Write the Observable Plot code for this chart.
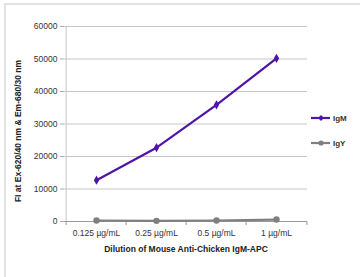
<!DOCTYPE html>
<html><head><meta charset="utf-8">
<script src="https://cdn.jsdelivr.net/npm/d3@7"></script>
<script src="https://cdn.jsdelivr.net/npm/@observablehq/plot@0.6"></script>
<style>
html,body{margin:0;padding:0;background:#fff;}
#wrap{position:relative;width:360px;height:277px;overflow:hidden;}
#frame{position:absolute;left:4px;top:3px;width:400px;height:272px;border-top:2px solid #e2e2e2;border-left:2px solid #e2e2e2;}
#legend{position:absolute;left:311px;top:112px;font:bold 8px "Liberation Sans",Arial,sans-serif;color:#333;}
.li{display:flex;align-items:center;height:12px;margin-bottom:13px;}
.li span{margin-left:2px;}
#chart{position:absolute;left:0;top:0;}
</style></head>
<body><div id="wrap"><div id="frame"></div><div id="chart"></div><div id="legend"></div></div>
<script>
const dilutions = ["0.125 µg/mL", "0.25 µg/mL", "0.5 µg/mL", "1 µg/mL"];
const igm = [12700, 22700, 35900, 50200];
const igy = [300, 200, 300, 600];
const seriesNames = ["IgM", "IgY"];
const seriesColors = ["#4f14a8", "#7f7f7f"];
const yTicks = [0, 10000, 20000, 30000, 40000, 50000, 60000];
const yTitle = "FI at Ex-620/40 nm & Em-680/30 nm";
const xTitle = "Dilution of Mouse Anti-Chicken IgM-APC";

const data = [];
dilutions.forEach((d, i) => {
  data.push({dil: d, series: "IgM", v: igm[i]});
  data.push({dil: d, series: "IgY", v: igy[i]});
});

const W = 360, H = 277, ml = 64, mr = 53, mt = 26, mb = 56;
const bw = (W - ml - mr) / dilutions.length;
const ih = H - mt - mb;

const plot = Plot.plot({
  width: W, height: H,
  marginLeft: ml, marginRight: mr, marginTop: mt, marginBottom: mb,
  style: {fontFamily: "'Liberation Sans', Arial, sans-serif", fontSize: "8.5px", color: "#333", background: "transparent"},
  x: {type: "band", domain: dilutions, padding: 0},
  y: {type: "linear", domain: [0, 60000]},
  marks: [
    Plot.ruleY(yTicks.slice(1), {stroke: "#c6c6c6", strokeWidth: 1, strokeOpacity: 1}),
    Plot.ruleX([dilutions[0]], {x: d => d, dx: -bw / 2, stroke: "#c6c6c6", strokeOpacity: 1}),
    Plot.ruleY([0], {stroke: "#9a9a9a", strokeWidth: 1, strokeOpacity: 1}),
    Plot.ruleX(dilutions, {x: d => d, dx: -bw / 2, insetTop: ih, insetBottom: -4, stroke: "#9a9a9a", strokeOpacity: 1}),
    Plot.ruleX([dilutions[dilutions.length - 1]], {x: d => d, dx: bw / 2, insetTop: ih, insetBottom: -4, stroke: "#9a9a9a", strokeOpacity: 1}),
    Plot.axisY({ticks: yTicks, tickFormat: d => String(d), tickSize: 4, tickPadding: 3, stroke: "#aaa", label: null, fontSize: "8.5px"}),
    Plot.axisX({tickSize: 0, tickPadding: 8, label: null, fontSize: "8.5px"}),
    Plot.text([yTitle], {frameAnchor: "left", textAnchor: "middle", rotate: -90, dx: -46, dy: 7, fontWeight: "bold", fontSize: 8.5, fill: "#222"}),
    Plot.text([xTitle], {frameAnchor: "bottom", dy: 28, fontWeight: "bold", fontSize: 8.5, fill: "#222", lineAnchor: "middle"}),
    Plot.line(data.filter(d => d.series === "IgY"), {x: "dil", y: "v", stroke: seriesColors[1], strokeWidth: 2.2}),
    Plot.dot(data.filter(d => d.series === "IgY"), {x: "dil", y: "v", r: 3.2, fill: seriesColors[1]}),
    Plot.line(data.filter(d => d.series === "IgM"), {x: "dil", y: "v", stroke: seriesColors[0], strokeWidth: 2.2}),
    Plot.dot(data.filter(d => d.series === "IgM"), {x: "dil", y: "v", r: 2.8, symbol: "diamond", fill: seriesColors[0]})
  ]
});
document.getElementById("chart").appendChild(plot);

const leg = d3.select("#legend");
seriesNames.forEach((s, i) => {
  const row = leg.append("div").attr("class", "li");
  const sv = row.append("svg").attr("width", 20).attr("height", 8);
  sv.append("line").attr("x1", 0).attr("x2", 19).attr("y1", 4).attr("y2", 4).attr("stroke", seriesColors[i]).attr("stroke-width", 2.2);
  if (i === 0) sv.append("path").attr("d", "M10,1L13,4L10,7L7,4Z").attr("fill", seriesColors[i]);
  else sv.append("circle").attr("cx", 10).attr("cy", 4).attr("r", 2.6).attr("fill", seriesColors[i]);
  row.append("span").text(s);
});
</script></body></html>
